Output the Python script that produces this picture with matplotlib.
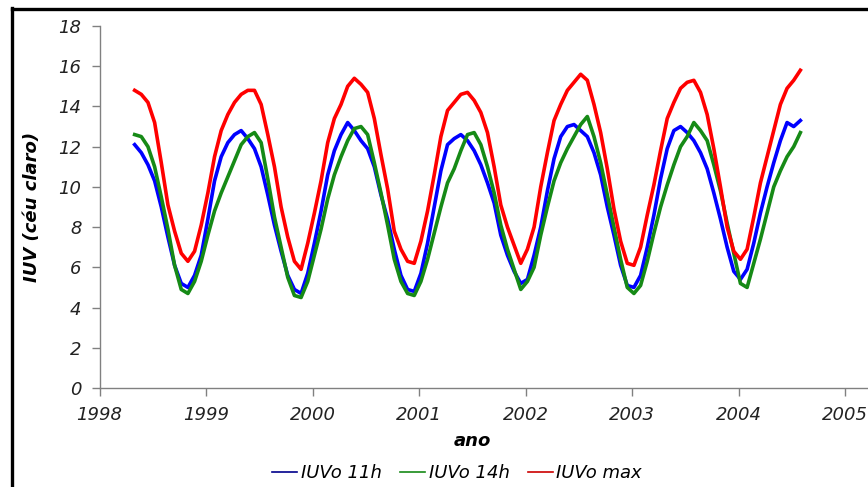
import numpy as np
import matplotlib
matplotlib.use("Agg")
import matplotlib.pyplot as plt
from matplotlib.lines import Line2D

# values, every 1/16 year from mid-1998 to mid-2004
iuv_11h = [12.1, 11.7, 11.1, 10.3, 9.0, 7.5, 6.1, 5.2, 5.0, 5.6,
           6.6, 8.4, 10.3, 11.5, 12.2, 12.6, 12.8, 12.4, 11.9, 11.0,
           9.6, 8.1, 6.8, 5.6, 4.9, 4.7, 5.7, 7.2, 8.8, 10.6,
           11.8, 12.6, 13.2, 12.8, 12.3, 11.9, 11.0, 9.6, 8.4, 6.9,
           5.6, 4.9, 4.8, 5.7, 7.2, 9.0, 10.8, 12.1, 12.4, 12.6,
           12.3, 11.8, 11.1, 10.2, 9.2, 7.6, 6.6, 5.8, 5.2, 5.4,
           6.6, 8.0, 9.8, 11.4, 12.5, 13.0, 13.1, 12.8, 12.5, 11.7,
           10.6, 9.0, 7.6, 6.1, 5.1, 5.0, 5.6, 7.0, 8.6, 10.4,
           11.9, 12.8, 13.0, 12.7, 12.3, 11.7, 10.9, 9.7, 8.4, 7.0,
           5.8, 5.4, 5.9, 7.2, 8.7, 10.0, 11.2, 12.3, 13.2, 13.0,
           13.3]

iuv_14h = [12.6, 12.5, 12.0, 11.0, 9.5, 7.9, 6.1, 4.9, 4.7, 5.3,
           6.3, 7.6, 8.8, 9.7, 10.5, 11.3, 12.1, 12.5, 12.7, 12.2,
           10.4, 8.5, 7.0, 5.5, 4.6, 4.5, 5.3, 6.6, 7.9, 9.4,
           10.6, 11.5, 12.3, 12.9, 13.0, 12.6, 11.2, 9.7, 8.1, 6.4,
           5.3, 4.7, 4.6, 5.3, 6.4, 7.7, 9.0, 10.2, 10.9, 11.8,
           12.6, 12.7, 12.1, 11.0, 9.7, 8.1, 6.9, 5.9, 4.9, 5.3,
           6.0, 7.6, 9.0, 10.3, 11.2, 11.9, 12.5, 13.1, 13.5, 12.5,
           11.2, 9.6, 8.0, 6.4, 5.0, 4.7, 5.1, 6.3, 7.7, 9.0,
           10.1, 11.1, 12.0, 12.5, 13.2, 12.8, 12.3, 11.1, 9.8, 8.2,
           6.7, 5.2, 5.0, 6.2, 7.4, 8.7, 10.0, 10.8, 11.5, 12.0,
           12.7]

iuv_max = [14.8, 14.6, 14.2, 13.2, 11.2, 9.1, 7.8, 6.7, 6.3, 6.8,
           8.1, 9.7, 11.5, 12.8, 13.6, 14.2, 14.6, 14.8, 14.8, 14.1,
           12.6, 11.0, 9.0, 7.5, 6.3, 5.9, 7.2, 8.7, 10.3, 12.2,
           13.4, 14.1, 15.0, 15.4, 15.1, 14.7, 13.4, 11.6, 9.9, 7.8,
           6.9, 6.3, 6.2, 7.3, 8.8, 10.6, 12.5, 13.8, 14.2, 14.6,
           14.7, 14.3, 13.7, 12.7, 11.0, 9.1, 8.0, 7.1, 6.2, 6.9,
           8.0, 10.0, 11.7, 13.3, 14.1, 14.8, 15.2, 15.6, 15.3, 14.1,
           12.7, 10.9, 8.9, 7.3, 6.2, 6.1, 7.0, 8.6, 10.1, 11.8,
           13.4, 14.2, 14.9, 15.2, 15.3, 14.7, 13.6, 11.9, 10.0, 8.0,
           6.8, 6.4, 6.9, 8.5, 10.2, 11.5, 12.8, 14.1, 14.9, 15.3,
           15.8]

ano = np.linspace(1998.33, 2004.58, len(iuv_max))
anos_ticks = [1998, 1999, 2000, 2001, 2002, 2003, 2004, 2005]

W, H = 868, 487
fig = plt.figure(figsize=(W / 100, H / 100), dpi=100)
ax = fig.add_axes([99.5 / W, 1 - 388 / H, 1 - 99.5 / W, (388 - 26) / H])

ax.plot(ano, iuv_11h, color="#0000ff", lw=2.6, label="IUVo 11h")
ax.plot(ano, iuv_14h, color="#168a16", lw=2.6, label="IUVo 14h")
ax.plot(ano, iuv_max, color="#ff0000", lw=2.6, label="IUVo max")
ax.set_xlim(1998, 2005.215)
ax.set_ylim(0, 18)
ax.set_xticks(anos_ticks)
ax.set_yticks(range(0, 19, 2))

for s in ["top", "right"]:
    ax.spines[s].set_visible(False)
for s in ["left", "bottom"]:
    ax.spines[s].set_color("#808080")
    ax.spines[s].set_linewidth(1.0)
ax.tick_params(direction="out", length=6, width=1, color="#808080",
               labelsize=13, labelcolor="#222222", pad=7)
for lab in ax.get_xticklabels() + ax.get_yticklabels():
    lab.set_fontstyle("italic")

fig.text(472 / W, 1 - 441 / H, "ano", ha="center", va="center",
         fontsize=13, fontweight="bold", fontstyle="italic")
fig.text(32 / W, 1 - 207 / H, "IUV (céu claro)", ha="center", va="center",
         rotation=90, fontsize=13, fontweight="bold", fontstyle="italic")

handles = [Line2D([], [], color="#00008b", lw=1.2),
           Line2D([], [], color="#168a16", lw=1.2),
           Line2D([], [], color="#cc0000", lw=1.2)]
leg = fig.legend(handles, ["IUVo 11h", "IUVo 14h", "IUVo max"],
                 loc="center", bbox_to_anchor=(457 / W, 1 - 473 / H),
                 ncol=3, frameon=False, handlelength=1.4, handletextpad=0.2,
                 columnspacing=1.0, prop={"size": 13, "style": "italic"})

# black frame visible on left and top
fig.add_artist(Line2D([12 / W, 12 / W], [0, 1 - 8 / H], color="black",
                      lw=2.4, transform=fig.transFigure))
fig.add_artist(Line2D([12 / W, 1], [1 - 9 / H, 1 - 9 / H], color="black",
                      lw=2.4, transform=fig.transFigure))

fig.savefig("out.png", dpi=100)
